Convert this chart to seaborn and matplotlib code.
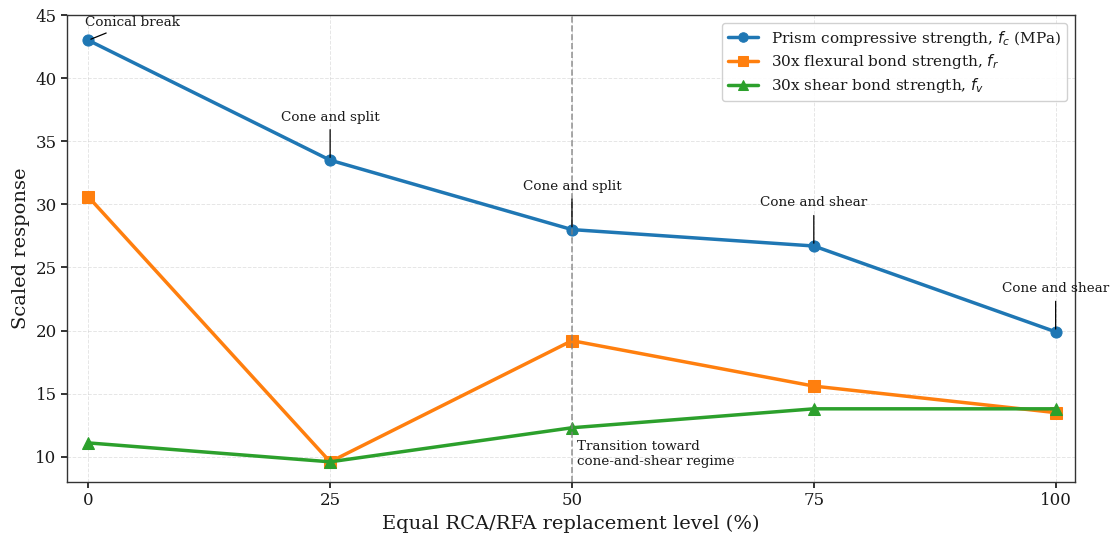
import matplotlib
matplotlib.use("Agg")
import matplotlib.pyplot as plt
import seaborn as sns
import pandas as pd

levels = [0, 25, 50, 75, 100]
fc = [43.0, 33.5, 28.0, 26.7, 19.9]
fr30 = [30.6, 9.6, 19.2, 15.6, 13.5]
fv30 = [11.1, 9.6, 12.3, 13.8, 13.8]
labels = ["Prism compressive strength, $f_c$ (MPa)",
          "30x flexural bond strength, $f_r$",
          "30x shear bond strength, $f_v$"]
failure = ["Conical break", "Cone and split", "Cone and split", "Cone and shear", "Cone and shear"]

sns.set_theme(style="ticks")
plt.rcParams['font.family'] = ['DejaVu Serif']
plt.rcParams['mathtext.fontset'] = 'dejavusans'
plt.rcParams['text.color'] = '#1a1a1a'
plt.rcParams['xtick.color'] = '#1a1a1a'
plt.rcParams['ytick.color'] = '#1a1a1a'
plt.rcParams['axes.labelcolor'] = '#1a1a1a'

fig, ax = plt.subplots(figsize=(11.11, 5.36), dpi=100)
fig.subplots_adjust(left=0.0603, right=0.9676, top=0.972, bottom=0.1007)

colors = ["#1f77b4", "#ff7f0e", "#2ca02c"]
markers = ["o", "s", "^"]
for vals, lab, c, m in zip([fc, fr30, fv30], labels, colors, markers):
    df = pd.DataFrame({"x": levels, "y": vals})
    sns.lineplot(data=df, x="x", y="y", ax=ax, color=c, marker=m, markersize=8,
                 linewidth=2.5, markeredgecolor=c, label=lab)

ax.axvline(50, color="gray", linestyle="--", linewidth=1.2, alpha=0.8)

# annotations
ax.annotate(failure[0], xy=(levels[0], fc[0]), xytext=(-2, 13), textcoords="offset points",
            ha="left", va="center", fontsize=9.7,
            arrowprops=dict(arrowstyle="-", color="black", lw=0.9))
for i in range(1, 5):
    ax.annotate(failure[i], xy=(levels[i], fc[i]), xytext=(0, 31), textcoords="offset points",
                ha="center", va="center", fontsize=9.7,
                arrowprops=dict(arrowstyle="-", color="black", lw=0.9))

ax.text(50.5, 11.3, "Transition toward\ncone-and-shear regime", ha="left", va="top", fontsize=9.7)

ax.set_xlim(-2.2, 102)
ax.set_ylim(8, 45)
ax.set_xticks(levels)
ax.set_yticks([10, 15, 20, 25, 30, 35, 40, 45])
ax.tick_params(labelsize=12, direction="out", length=4)
ax.set_xlabel("Equal RCA/RFA replacement level (%)", fontsize=14)
ax.set_ylabel("Scaled response", fontsize=14)
ax.grid(True, linestyle="--", linewidth=0.7, alpha=0.5, color="#cccccc")
for s in ax.spines.values():
    s.set_color("#333333")
    s.set_linewidth(1.0)
ax.legend(loc="upper right", fontsize=11, frameon=True, framealpha=0.9,
          labelspacing=0.3, markerscale=0.85)

fig.savefig("out.png", dpi=100)
